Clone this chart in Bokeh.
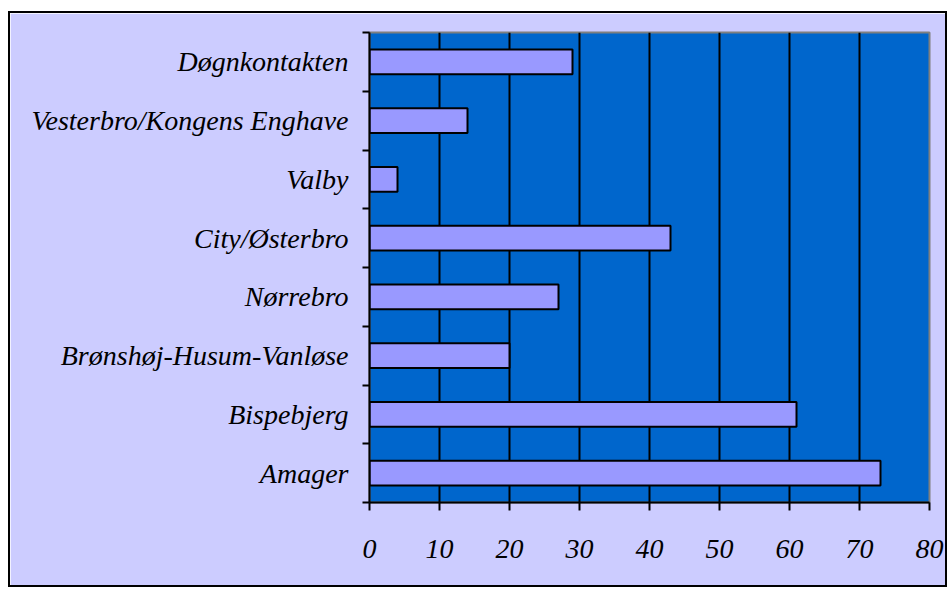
from bokeh.plotting import figure
from bokeh.models import ColumnDataSource, FixedTicker, Range1d, LinearAxis
from bokeh.embed import file_html
from bokeh.resources import INLINE

# Data (bottom to top)
categories = ["Amager", "Bispebjerg", "Brønshøj-Husum-Vanløse", "Nørrebro",
              "City/Østerbro", "Valby", "Vesterbro/Kongens Enghave", "Døgnkontakten"]
values = [73, 61, 20, 27, 43, 4, 14, 29]
x_ticks = [0, 10, 20, 30, 40, 50, 60, 70, 80]

centers = [i + 0.5 for i in range(len(categories))]
bounds = [i for i in range(len(categories) + 1)]

source = ColumnDataSource(dict(y=centers, value=values, name=categories))

FONT = "Liberation Serif"

p = figure(width=939, height=576, output_backend="svg", toolbar_location=None,
           x_range=Range1d(0, 80), y_range=Range1d(0, len(categories)),
           x_axis_location=None, y_axis_location=None,
           min_border_left=359, min_border_right=20, min_border_top=19,
           min_border_bottom=87)
p.margin = (11, 0, 0, 8)
p.styles = {"border": "2px solid black"}
p.border_fill_color = "#CCCCFF"
p.background_fill_color = "#0066CC"
p.outline_line_color = "#7f7f7f"
p.outline_line_width = 2

p.hbar(y="y", right="value", left=0, height=0.42, source=source,
       fill_color="#9999FF", line_color="black", line_width=2)

xaxis = LinearAxis(
    ticker=FixedTicker(ticks=x_ticks),
    axis_line_color="black", axis_line_width=2,
    major_tick_out=8, major_tick_in=0,
    major_tick_line_width=2, major_tick_line_color="black",
    minor_tick_line_color=None,
    major_label_text_font=FONT,
    major_label_text_font_style="italic",
    major_label_text_font_size="28px",
    major_label_text_color="black",
    major_label_standoff=29,
)
p.add_layout(xaxis, "below")

yaxis = LinearAxis(
    ticker=FixedTicker(ticks=centers, minor_ticks=bounds),
    major_label_overrides={c: n for c, n in zip(centers, categories)},
    axis_line_color="black", axis_line_width=2,
    major_tick_out=0, major_tick_in=0,
    minor_tick_out=7, minor_tick_in=0,
    minor_tick_line_color="black", minor_tick_line_width=2,
    major_label_text_font=FONT,
    major_label_text_font_style="italic",
    major_label_text_font_size="28px",
    major_label_text_color="black",
    major_label_standoff=14,
)
p.add_layout(yaxis, "left")

p.xgrid.ticker = FixedTicker(ticks=x_ticks[1:-1])
p.xgrid.grid_line_color = "black"
p.xgrid.grid_line_width = 2
p.ygrid.grid_line_color = None

open("out.html", "w").write(file_html(p, INLINE))
